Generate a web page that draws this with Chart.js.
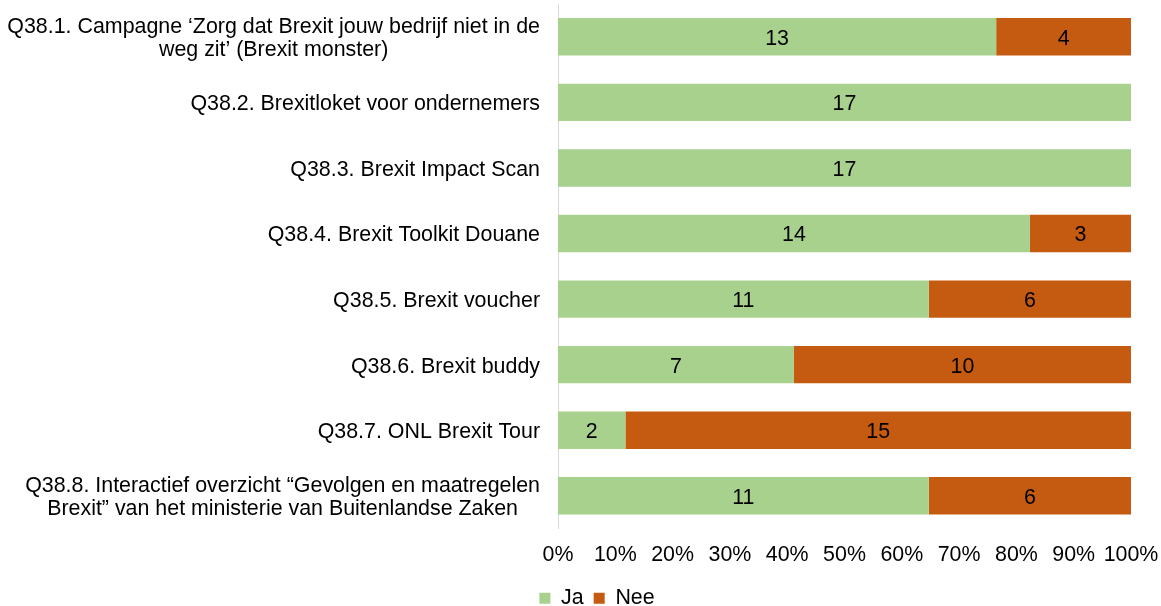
<!DOCTYPE html>
<html>
<head>
<meta charset="utf-8">
<script src="https://cdn.jsdelivr.net/npm/chart.js@4"></script>
<style>
  html, body { margin: 0; padding: 0; background: #fff; }
  #wrap { width: 1161px; height: 606px; }
</style>
</head>
<body>
<div id="wrap"><canvas id="chart"></canvas></div>
<script>
const categories = [
  ['Q38.1. Campagne ‘Zorg dat Brexit jouw bedrijf niet in de', 'weg zit’ (Brexit monster)'],
  ['Q38.2. Brexitloket voor ondernemers'],
  ['Q38.3. Brexit Impact Scan'],
  ['Q38.4. Brexit Toolkit Douane'],
  ['Q38.5. Brexit voucher'],
  ['Q38.6. Brexit buddy'],
  ['Q38.7. ONL Brexit Tour'],
  ['Q38.8. Interactief overzicht “Gevolgen en maatregelen', 'Brexit” van het ministerie van Buitenlandse Zaken']
];
const jaCounts = [13, 17, 17, 14, 11, 7, 2, 11];
const neeCounts = [4, 0, 0, 3, 6, 10, 15, 6];
const seriesNames = ['Ja', 'Nee'];
const xTicks = [0, 10, 20, 30, 40, 50, 60, 70, 80, 90, 100];

const FONT = '"Liberation Sans", Arial, sans-serif';
const SIZE = 21.4;

// 100% stacked: share of each answer per question
function share(counts, i) {
  return counts[i] / (jaCounts[i] + neeCounts[i]) * 100;
}

// counts written in the middle of each segment
const valueLabels = {
  id: 'valueLabels',
  afterDatasetsDraw(chart) {
    const ctx = chart.ctx;
    ctx.save();
    ctx.font = SIZE + 'px ' + FONT;
    ctx.fillStyle = '#000';
    ctx.textAlign = 'center';
    ctx.textBaseline = 'middle';
    chart.data.datasets.forEach((ds, d) => {
      chart.getDatasetMeta(d).data.forEach((bar, i) => {
        const n = ds.counts[i];
        if (!n) return;
        const p = bar.getCenterPoint();
        ctx.fillText(String(n), p.x, p.y + 2);
      });
    });
    ctx.restore();
  }
};

// question labels, lines centred on each other, block right-aligned to the axis
const questionLabels = {
  id: 'questionLabels',
  afterDraw(chart) {
    const ctx = chart.ctx;
    const y = chart.scales.y;
    const right = chart.chartArea.left - 18;
    const lh = 23;
    ctx.save();
    ctx.font = SIZE + 'px ' + FONT;
    ctx.fillStyle = '#000';
    ctx.textAlign = 'center';
    ctx.textBaseline = 'middle';
    categories.forEach((lines, i) => {
      const w = Math.max(...lines.map(l => ctx.measureText(l).width));
      const cx = right - w / 2;
      const cy = y.getPixelForValue(i) + 2;
      lines.forEach((l, k) => {
        ctx.fillText(l, cx, cy + (k - (lines.length - 1) / 2) * lh);
      });
    });
    ctx.restore();
  }
};

const ctx = document.getElementById('chart').getContext('2d');
new Chart(ctx, {
  type: 'bar',
  data: {
    labels: categories.map(c => c.join(' ')),
    datasets: [
      {
        label: seriesNames[0],
        data: jaCounts.map((v, i) => share(jaCounts, i)),
        counts: jaCounts,
        backgroundColor: '#A9D18E',
        barPercentage: 0.57,
        categoryPercentage: 1
      },
      {
        label: seriesNames[1],
        data: neeCounts.map((v, i) => share(neeCounts, i)),
        counts: neeCounts,
        backgroundColor: '#C55A11',
        barPercentage: 0.57,
        categoryPercentage: 1
      }
    ]
  },
  options: {
    indexAxis: 'y',
    responsive: true,
    maintainAspectRatio: false,
    animation: false,
    layout: { padding: { top: 4, right: 30, left: 63, bottom: -13 } },
    scales: {
      x: {
        stacked: true,
        min: 0,
        max: 100,
        afterBuildTicks: s => { s.ticks = xTicks.map(v => ({ value: v })); },
        afterFit: s => { s.height = 49; s.paddingLeft = 0; s.paddingRight = 0; },
        grid: { display: false, drawTicks: false },
        border: { display: false },
        ticks: {
          padding: 14,
          autoSkip: false,
          color: '#000',
          font: { family: FONT, size: SIZE },
          maxRotation: 0,
          callback: v => v + '%'
        }
      },
      y: {
        stacked: true,
        afterFit: s => { s.width = 495; },
        grid: { display: false, drawTicks: false },
        border: { display: true, color: '#D9D9D9', width: 1 },
        ticks: { display: false }
      }
    },
    plugins: {
      legend: {
        position: 'bottom',
        labels: {
          boxWidth: 11,
          boxHeight: 11,
          padding: 10,
          color: '#000',
          font: { family: FONT, size: SIZE }
        }
      },
      tooltip: { enabled: false }
    }
  },
  plugins: [valueLabels, questionLabels]
});
</script>
</body>
</html>
